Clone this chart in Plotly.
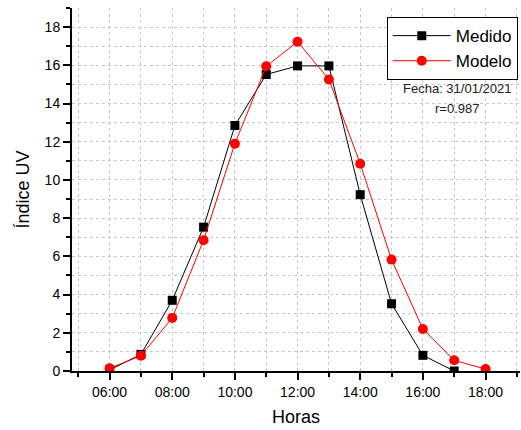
import plotly.graph_objects as go

horas = ["06:00", "07:00", "08:00", "09:00", "10:00", "11:00", "12:00",
         "13:00", "14:00", "15:00", "16:00", "17:00", "18:00"]
medido = [0.05, 0.87, 3.7, 7.53, 12.85, 15.52, 15.97, 15.97, 9.23, 3.52, 0.82, 0.0, None]
modelo = [0.14, 0.8, 2.78, 6.85, 11.9, 15.95, 17.24, 15.26, 10.85, 5.83, 2.2, 0.56, 0.1]
fecha = "Fecha: 31/01/2021"
r_text = "r=0.987"

x = ["2021-01-31 " + h for h in horas]
xm = [xi for xi, v in zip(x, medido) if v is not None]
ym = [v for v in medido if v is not None]

fig = go.Figure()
fig.add_trace(go.Scatter(x=xm, y=ym, name="Medido", mode="lines+markers",
                         line=dict(color="black", width=1),
                         marker=dict(symbol="square", size=9, color="black")))
fig.add_trace(go.Scatter(x=x, y=modelo, name="Modelo", mode="lines+markers",
                         line=dict(color="#ff0000", width=1),
                         marker=dict(symbol="circle", size=10, color="#ff0000")))

font = "Liberation Sans, Arial, sans-serif"
grid = dict(showgrid=True, gridcolor="#c8c8c8", griddash="dot", gridwidth=1)

fig.update_layout(
    width=521, height=430,
    margin=dict(l=72, r=1, t=8, b=59),
    paper_bgcolor="white", plot_bgcolor="white",
    font=dict(family=font, color="black", size=14),
    showlegend=True,
    legend=dict(x=0.995, y=0.975, xanchor="right", yanchor="top",
                bordercolor="black", borderwidth=1, bgcolor="white",
                font=dict(size=17), itemwidth=58, tracegroupgap=0),
    xaxis=dict(type="date", range=["2021-01-31 04:48", "2021-01-31 19:06"],
               tickformat="%H:%M", dtick=7200000, tick0="2021-01-31 06:00",
               ticks="outside", ticklen=7, tickwidth=1.5, tickcolor="black",
               showline=True, linecolor="black", linewidth=2, zeroline=False,
               automargin=False,
               title=dict(text="Horas", font=dict(size=18), standoff=12),
               minor=dict(dtick=3600000, tick0="2021-01-31 05:00", ticks="outside",
                          ticklen=4, tickcolor="black", showgrid=True,
                          gridcolor="#c8c8c8", griddash="dot"),
               **grid),
    yaxis=dict(range=[0, 19], dtick=2, tick0=0,
               ticks="outside", ticklen=7, tickwidth=1.5, tickcolor="black",
               showline=True, linecolor="black", linewidth=2, zeroline=False,
               automargin=False,
               title=dict(text="Índice UV", font=dict(size=18), standoff=10),
               minor=dict(dtick=1, ticks="outside", ticklen=4, tickcolor="black",
                          showgrid=True, gridcolor="#c8c8c8", griddash="dot"),
               **grid),
)

fig.add_annotation(text=fecha, xref="paper", yref="paper", x=0.86, y=0.778,
                   xanchor="center", yanchor="middle",
                   showarrow=False, font=dict(size=13, color="#222222"))
fig.add_annotation(text=r_text, xref="paper", yref="paper", x=0.86, y=0.724,
                   xanchor="center", yanchor="middle",
                   showarrow=False, font=dict(size=13, color="#222222"))

fig.write_html("out.html", config={"displayModeBar": False},
               post_script="document.body.style.margin='0';document.body.style.padding='0';")
